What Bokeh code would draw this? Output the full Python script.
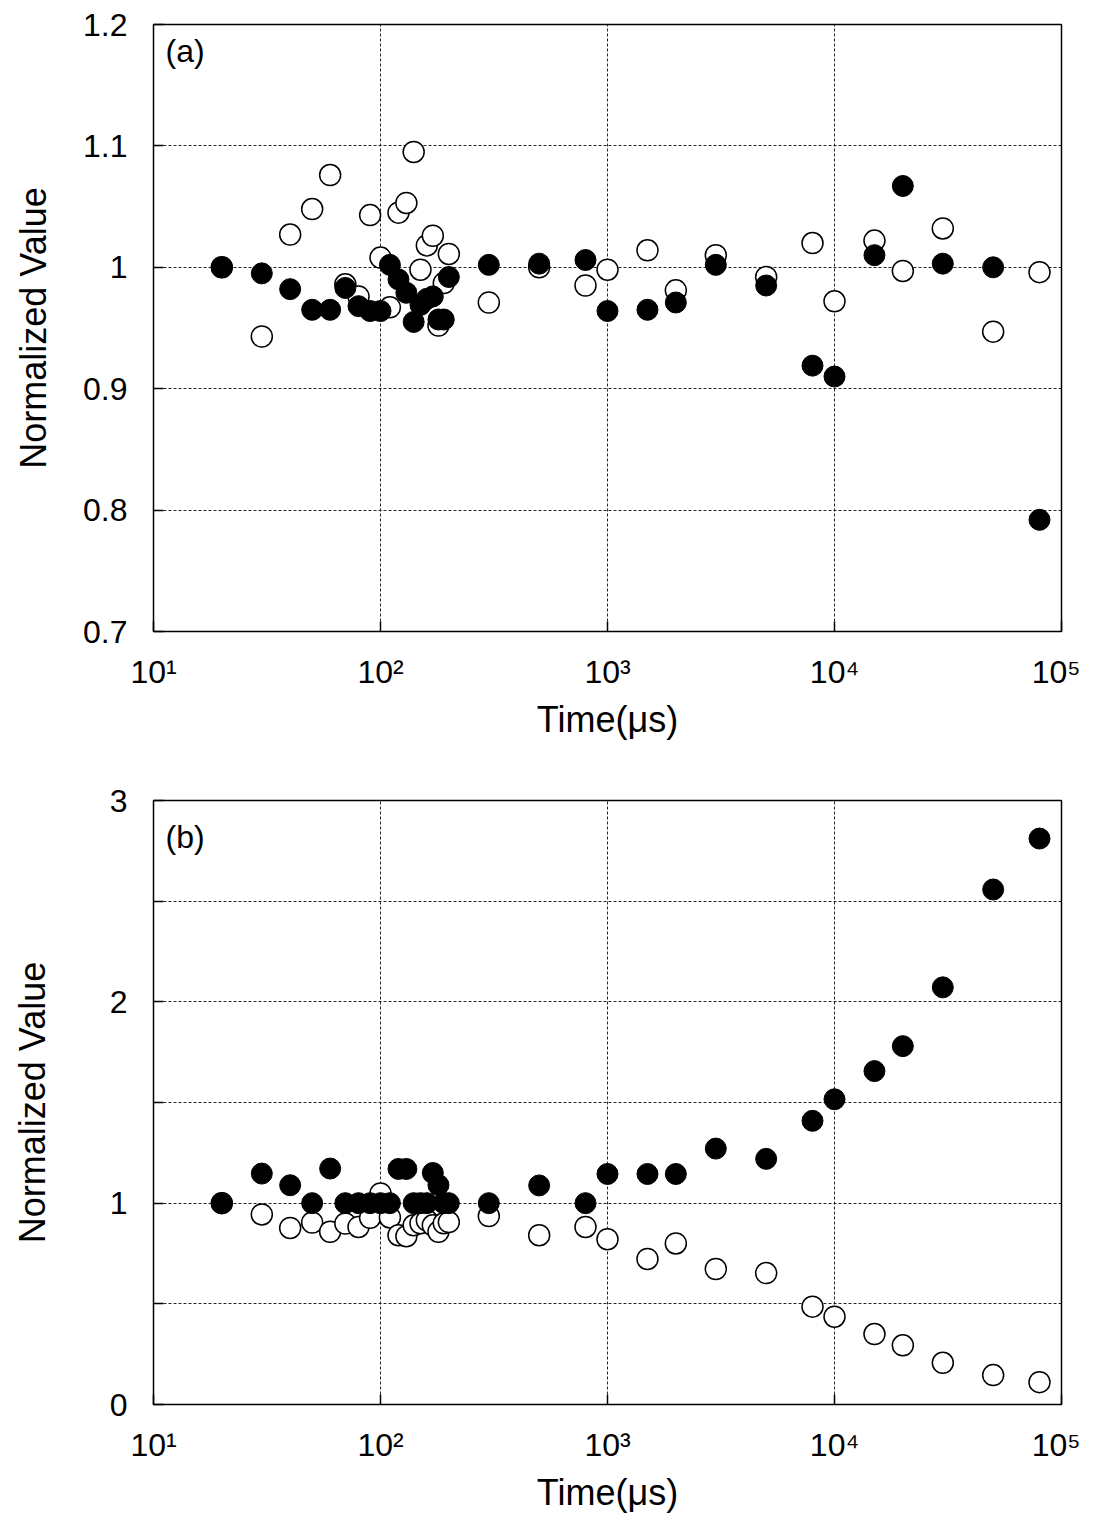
from bokeh.plotting import figure
from bokeh.layouts import column
from bokeh.models import FixedTicker, Label, ColumnDataSource
from bokeh.embed import file_html
from bokeh.resources import INLINE

# ---- data ----
time_us = [20, 30, 40, 50, 60, 70, 80, 90, 100, 110, 120, 130, 140, 150, 160, 170, 180, 190, 200,
           300, 500, 800, 1000, 1500, 2000, 3000, 5000, 8000, 10000, 15000, 20000, 30000, 50000, 80000]

a_filled = [1.0, 0.995, 0.982, 0.965, 0.965, 0.983, 0.968, 0.964, 0.964, 1.002, 0.99, 0.979, 0.955,
            0.969, 0.974, 0.976, 0.957, 0.957, 0.992, 1.002, 1.003, 1.006, 0.964, 0.965, 0.971,
            1.002, 0.985, 0.919, 0.910, 1.010, 1.067, 1.003, 1.0, 0.792]
a_open = [1.0, 0.943, 1.027, 1.048, 1.076, 0.986, 0.976, 1.043, 1.008, 0.967, 1.045, 1.053, 1.095,
          0.998, 1.018, 1.026, 0.952, 0.987, 1.011, 0.971, 1.0, 0.985, 0.998, 1.014, 0.981,
          1.010, 0.992, 1.020, 0.972, 1.022, 0.997, 1.032, 0.947, 0.996]

b_filled = [1.0, 1.147, 1.089, 1.0, 1.172, 1.0, 1.0, 1.0, 1.0, 1.0, 1.17, 1.17, 1.0, 1.0, 1.0,
            1.15, 1.09, 1.0, 1.0, 1.0, 1.088, 1.0, 1.145, 1.145, 1.145, 1.271, 1.22, 1.409,
            1.516, 1.656, 1.78, 2.072, 2.558, 2.811]
b_open = [1.0, 0.944, 0.877, 0.904, 0.858, 0.899, 0.882, 0.927, 1.048, 0.929, 0.841, 0.836, 0.89,
          0.9, 0.915, 0.89, 0.858, 0.9, 0.906, 0.936, 0.841, 0.882, 0.821, 0.723, 0.80, 0.673,
          0.653, 0.486, 0.436, 0.35, 0.294, 0.207, 0.146, 0.111]

x_ticks = [10, 100, 1000, 10000, 100000]
x_tick_labels = ["10\u00b9", "10\u00b2", "10\u00b3", "10\u2074", "10\u2075"]

a_yticks = [0.7, 0.8, 0.9, 1.0, 1.1, 1.2]
a_ylabels = ["0.7", "0.8", "0.9", "1", "1.1", "1.2"]
b_yticks = [0, 0.5, 1.0, 1.5, 2.0, 2.5, 3.0]
b_ylabels = ["0", "", "1", "", "2", "", "3"]

FONT = "Liberation Sans"


def make_panel(yfilled, yopen, yrange, yticks, ylabels, tag, tag_y, height, top, bottom,
               ylabel_standoff):
    p = figure(width=1080, height=height, x_axis_type="log", x_range=(10, 100000),
               y_range=yrange, output_backend="svg", toolbar_location=None,
               min_border_left=153, min_border_right=19, min_border_top=top,
               min_border_bottom=bottom)
    p.outline_line_color = "black"
    p.outline_line_width = 1.5
    p.background_fill_color = "white"
    p.border_fill_color = "white"

    p.xaxis.ticker = FixedTicker(ticks=x_ticks, minor_ticks=[])
    p.xaxis.major_label_overrides = {float(t): l for t, l in zip(x_ticks, x_tick_labels)}
    p.yaxis.ticker = FixedTicker(ticks=yticks, minor_ticks=[])
    p.yaxis.major_label_overrides = {float(t): l for t, l in zip(yticks, ylabels)}

    for ax in (p.xaxis[0], p.yaxis[0]):
        ax.axis_line_color = None
        ax.major_tick_in = 10
        ax.major_tick_out = 0
        ax.major_tick_line_color = "black"
        ax.major_tick_line_width = 1.5
        ax.minor_tick_line_color = None
        ax.major_label_text_font = FONT
        ax.major_label_text_font_size = "32px"
        ax.major_label_text_color = "black"
        ax.axis_label_text_font = FONT
        ax.axis_label_text_font_size = "36px"
        ax.axis_label_text_font_style = "normal"
        ax.axis_label_text_color = "black"

    p.xaxis.axis_label = "Time(\u03bcs)"
    p.xaxis.major_label_standoff = 22
    p.xaxis.axis_label_standoff = 6
    p.yaxis.axis_label = "Normalized Value"
    p.yaxis.major_label_standoff = 26
    p.yaxis.axis_label_standoff = ylabel_standoff

    for g in (p.xgrid[0], p.ygrid[0]):
        g.grid_line_color = "black"
        g.grid_line_dash = "3 2"
        g.grid_line_width = 1
        g.grid_line_alpha = 0.85

    src = ColumnDataSource(dict(x=time_us, yf=yfilled, yo=yopen))
    p.scatter("x", "yo", source=src, size=21, marker="circle", fill_color="white",
              line_color="black", line_width=1.5)
    p.scatter("x", "yf", source=src, size=21, marker="circle", fill_color="black",
              line_color="black", line_width=1)

    p.add_layout(Label(x=11.3, y=tag_y, text=tag, text_font=FONT, text_font_size="32px",
                       text_baseline="top", text_color="black"))
    return p


pa = make_panel(a_filled, a_open, (0.7, 1.2), a_yticks, a_ylabels, "(a)", 1.193,
                height=760, top=24, bottom=129, ylabel_standoff=26)
pb = make_panel(b_filled, b_open, (0, 3), b_yticks, b_ylabels, "(b)", 2.91,
                height=755, top=40, bottom=110, ylabel_standoff=54)

layout = column(pa, pb, spacing=0)
open("out.html", "w").write(file_html(layout, INLINE))
